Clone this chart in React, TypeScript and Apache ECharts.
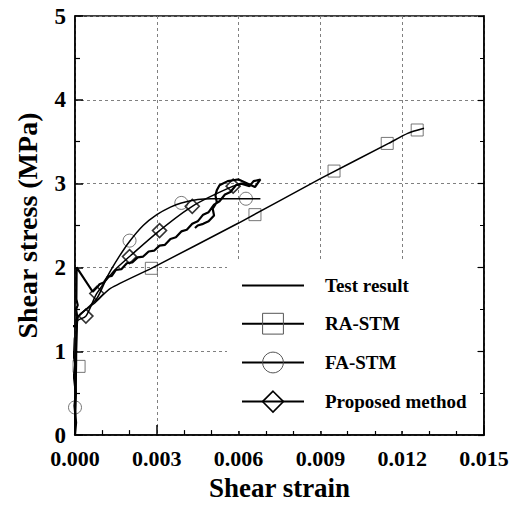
import React, { useEffect, useRef } from "react";
import * as echarts from "echarts";

// ---------- data ----------
const xTicks = [0, 0.003, 0.006, 0.009, 0.012, 0.015];
const yTicks = [0, 1, 2, 3, 4, 5];
const seriesNames = ["Test result", "RA-STM", "FA-STM", "Proposed method"];

// Test result [strain, stress]
const testResult: number[][] = [
  [0, 0], [0.00004, 0.15], [-0.00002, 0.35], [0.00003, 0.5], [-0.00004, 0.7],
  [0.00001, 0.85], [-0.00008, 1.0], [-0.0001, 1.15], [-0.00018, 1.27], [-0.00018, 1.3],
  [0.00005, 1.3], [0.00008, 1.42], [0.00004, 1.5], [0.0001, 1.55], [0.00005, 1.62],
  [0.00006, 2.0], [0.00065, 1.71], [0.0008, 1.76], [0.0009, 1.8], [0.00105, 1.82],
  [0.0012, 1.89], [0.00135, 1.9], [0.0015, 1.97], [0.0017, 1.98], [0.0019, 2.05],
  [0.0021, 2.06], [0.0023, 2.12], [0.0025, 2.13], [0.0027, 2.19], [0.0029, 2.2],
  [0.0031, 2.26], [0.0033, 2.27], [0.0035, 2.34], [0.0037, 2.36], [0.0039, 2.43],
  [0.0041, 2.45], [0.0043, 2.52], [0.0045, 2.55], [0.0047, 2.63], [0.0049, 2.66],
  [0.0051, 2.75], [0.0053, 2.79], [0.0055, 2.87], [0.0057, 2.9], [0.0059, 2.98],
  [0.0061, 3.0], [0.0064, 2.97], [0.00655, 3.03], [0.0068, 3.05], [0.0066, 2.96],
  [0.0062, 3.02], [0.006, 3.05], [0.0058, 3.04], [0.0056, 3.03], [0.0053, 2.98],
  [0.0052, 2.92], [0.00515, 2.86], [0.0052, 2.78], [0.00505, 2.7], [0.0051, 2.62],
  [0.0049, 2.55], [0.0047, 2.52], [0.0045, 2.5], [0.0044, 2.47],
];

// RA-STM curve and markers
const raCurve: number[][] = [
  [0, 0], [0.00005, 0.8], [0.0001, 1.4], [0.0007, 1.57], [0.0013, 1.75],
  [0.0028, 1.99], [0.006, 2.53], [0.009, 3.06], [0.0115, 3.48], [0.0122, 3.6], [0.0128, 3.66],
];
const raMarkers: number[][] = [
  [0.00015, 0.82], [0.0028, 1.99], [0.0066, 2.63], [0.0095, 3.15], [0.01145, 3.48], [0.01255, 3.64],
];

// FA-STM curve and markers
const faCurve: number[][] = [
  [0, 0], [0.00002, 0.33], [0.0001, 1.4], [0.0004, 1.5], [0.0008, 1.63], [0.0012, 1.9],
  [0.0016, 2.12], [0.002, 2.31], [0.0025, 2.5], [0.003, 2.63], [0.0035, 2.72],
  [0.0039, 2.77], [0.0045, 2.81], [0.005, 2.82], [0.0068, 2.82],
];
const faMarkers: number[][] = [[0, 0.33], [0.002, 2.32], [0.0039, 2.77], [0.00627, 2.82]];

// Proposed method curve and markers
const propCurve: number[][] = [
  [0, 0], [0.00003, 0.7], [0.00006, 1.35], [0.0004, 1.42], [0.0008, 1.69], [0.0014, 1.95],
  [0.002, 2.13], [0.0031, 2.44], [0.0043, 2.73], [0.0058, 2.97], [0.0062, 3.0],
];
const propMarkers: number[][] = [
  [0.0004, 1.42], [0.0008, 1.69], [0.002, 2.13], [0.0031, 2.44], [0.0043, 2.73], [0.0058, 2.97],
];

const FONT = "'Liberation Serif', 'Times New Roman', serif";

export default function App() {
  const ref = useRef<HTMLDivElement>(null);
  useEffect(() => {
    if (!ref.current) return;
    const chart = echarts.init(ref.current, null, { renderer: "svg" });
    const labelStyle = { fontFamily: FONT, fontWeight: "bold" as const, color: "#000" };
    const gridLine = { show: true, lineStyle: { color: "#808080", type: [3, 3], width: 1 } };
    const markerGray = { color: "transparent", borderColor: "#555", borderWidth: 1 };
    const markerDia = { color: "transparent", borderColor: "#000", borderWidth: 1.6 };

    const option: any = {
      animation: false,
      backgroundColor: "#fff",
      grid: { left: 75, right: 32, top: 16, bottom: 63, show: true, borderColor: "#000", borderWidth: 1.5, backgroundColor: "transparent" },
      xAxis: [{
        type: "value", min: xTicks[0], max: xTicks[xTicks.length - 1], interval: 0.003,
        name: "Shear strain", nameLocation: "middle", nameGap: 26,
        nameTextStyle: { ...labelStyle, fontSize: 27 },
        axisLine: { show: true, onZero: false, lineStyle: { color: "#000", width: 1.5 } },
        axisTick: { show: true, inside: true, length: 10, lineStyle: { color: "#000", width: 1.5 } },
        minorTick: { show: true, splitNumber: 3, length: 5, lineStyle: { color: "#000", width: 1.2 } },
        axisLabel: { ...labelStyle, fontSize: 22, lineHeight: 20, margin: 13, formatter: (v: number) => v.toFixed(3) },
        splitLine: gridLine,
      }],
      yAxis: [{
        type: "value", min: yTicks[0], max: yTicks[yTicks.length - 1], interval: 1, position: "left",
        name: "Shear stress (MPa)", nameLocation: "middle", nameGap: 34,
        nameTextStyle: { ...labelStyle, fontSize: 28 },
        axisLine: { show: true, onZero: false, lineStyle: { color: "#000", width: 1.5 } },
        axisTick: { show: true, inside: true, length: 8, lineStyle: { color: "#000", width: 1.5 } },
        minorTick: { show: true, splitNumber: 2, length: 5, lineStyle: { color: "#000", width: 1.2 } },
        axisLabel: { ...labelStyle, fontSize: 23, lineHeight: 18, margin: 9 },
        splitLine: gridLine,
      }, {
        type: "value", min: yTicks[0], max: yTicks[yTicks.length - 1], interval: 1, position: "right",
        axisLine: { show: true, onZero: false, lineStyle: { color: "#000", width: 1.5 } },
        axisTick: { show: true, inside: true, length: 6, lineStyle: { color: "#000", width: 1.2 } },
        minorTick: { show: true, splitNumber: 2, length: 4, lineStyle: { color: "#000", width: 1 } },
        axisLabel: { show: false },
        splitLine: { show: false },
      }],
      graphic: [{
        type: "rect", z: 1, silent: true,
        shape: { x: 227, y: 259, width: 250, height: 172 },
        style: { fill: "#fff" },
      }],
      legend: {
        orient: "vertical", left: 241, top: 275, padding: 0,
        itemWidth: 62, itemHeight: 26, itemGap: 17,
        textStyle: { ...labelStyle, fontSize: 19, padding: [0, 0, 0, 16] },
        lineStyle: { width: 2, color: "#000" },
        data: [
          { name: seriesNames[0], itemStyle: { color: "transparent", borderColor: "transparent", borderWidth: 0 } },
          { name: seriesNames[1], itemStyle: markerGray },
          { name: seriesNames[2], itemStyle: markerGray },
          { name: seriesNames[3], itemStyle: markerDia },
        ],
      },
      series: [
        {
          name: seriesNames[0], type: "line", data: testResult, symbol: "none", clip: false, z: 3,
          lineStyle: { color: "#000", width: 2.2 }, itemStyle: { color: "transparent", borderColor: "transparent" },
        },
        {
          name: seriesNames[1], type: "line", data: raCurve, symbol: "rect", showSymbol: false, smooth: 0.2, clip: false,
          lineStyle: { color: "#000", width: 1.5 }, itemStyle: markerGray,
        },
        {
          name: seriesNames[2], type: "line", data: faCurve, symbol: "circle", showSymbol: false, smooth: 0.3, clip: false,
          lineStyle: { color: "#000", width: 1.5 }, itemStyle: markerGray,
        },
        {
          name: seriesNames[3], type: "line", data: propCurve, symbol: "diamond", showSymbol: false, smooth: 0.3, clip: false,
          lineStyle: { color: "#000", width: 1.5 }, itemStyle: markerDia,
        },
        { name: seriesNames[1], type: "scatter", data: raMarkers, symbol: "rect", symbolSize: 12, clip: false, itemStyle: markerGray },
        { name: seriesNames[2], type: "scatter", data: faMarkers, symbol: "circle", symbolSize: 13, clip: false, itemStyle: markerGray },
        { name: seriesNames[3], type: "scatter", data: propMarkers, symbol: "diamond", symbolSize: 14, clip: false, itemStyle: markerDia },
      ],
    };
    chart.setOption(option);
    return () => chart.dispose();
  }, []);
  return <div ref={ref} style={{ position: "fixed", left: 0, top: 0, width: 516, height: 506, background: "#fff" }} />;
}
